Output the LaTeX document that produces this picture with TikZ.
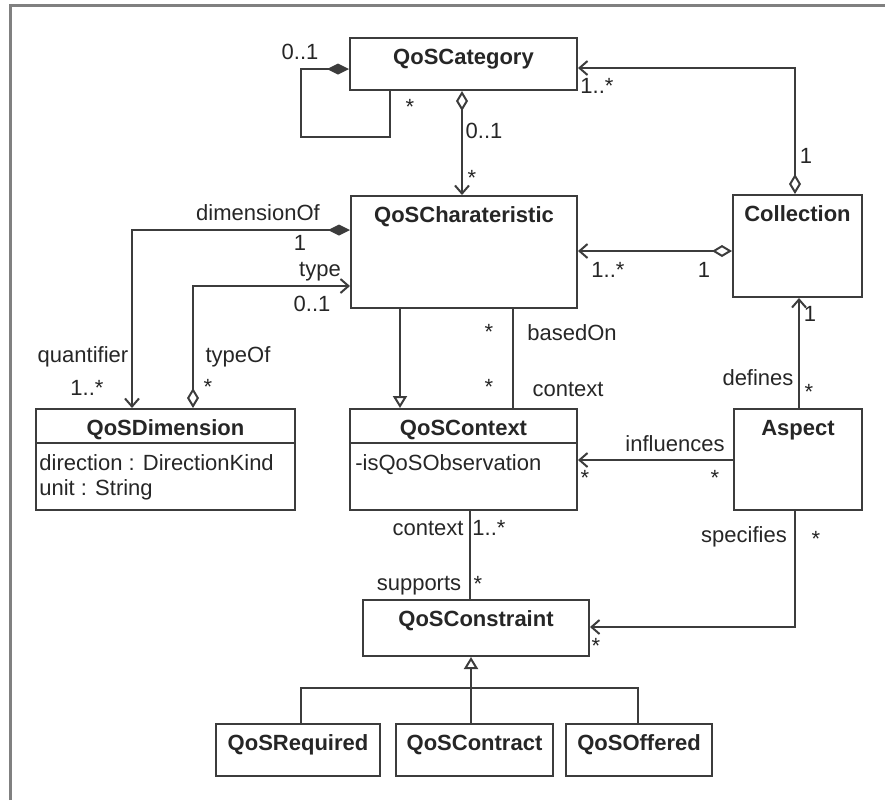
\documentclass[tikz,border=0pt]{standalone}
\usepackage{fontspec}
\setmainfont{Liberation Sans}
\usetikzlibrary{arrows.meta}

\definecolor{linecol}{HTML}{3C3C3C}
\definecolor{txtcol}{HTML}{262626}
\definecolor{framecol}{HTML}{808080}

\tikzset{
    conn/.style={draw=linecol, line width=1pt},
    classbox/.style={draw=linecol, line width=1pt, inner sep=0pt},
    classname/.style={font=\fontsize{11}{13}\selectfont\bfseries, text=txtcol, inner sep=0pt, anchor=base},
    attr/.style={font=\fontsize{11}{13}\selectfont, text=txtcol, inner sep=0pt, anchor=base west},
    lbl/.style={font=\fontsize{11}{13}\selectfont, text=txtcol, inner sep=0pt, anchor=base},
    nav/.style={-{Straight Barb[length=4pt,width=7pt]}},
    compo/.style={{Diamond[length=11pt,width=5.5pt]}-},
    componav/.style={{Diamond[length=11pt,width=5.5pt]}-{Straight Barb[length=4pt,width=7pt]}},
    aggnav/.style={{Diamond[open,length=10pt,width=6pt]}-{Straight Barb[length=4pt,width=7pt]}},
    inherit/.style={-{Triangle[open,length=6pt,width=7pt]}},
}

\begin{document}
\begin{tikzpicture}[x=0.5pt, y=-0.5pt]
    \def\umlclass#1#2#3#4#5#6{%
        \node[classbox, minimum width=#4*0.5pt, minimum height=#5*0.5pt, anchor=north west] (#1) at (#2,#3) {};
        \node[classname] (#1-title) at ([yshift=-13.5pt]#1.north) {#6};
    }

    \def\umllabel#1#2#3#4{%
        \node[lbl] (#1) at (#2,#3) {#4};
    }

    \useasboundingbox (0,0) rectangle (885,800);
    \draw[framecol, line width=1.5pt] (10,800) |- (885,5);

    \umlclass{cat}{349}{37}{227}{52}{QoSCategory}
    \umlclass{char}{350}{195}{226}{112}{QoSCharateristic}
    \umlclass{coll}{732}{194}{129}{102}{Collection}
    \umlclass{dim}{35}{408}{259}{101}{QoSDimension}
    \umlclass{ctx}{349}{408}{227}{101}{QoSContext}
    \umlclass{asp}{733}{408}{128}{101}{Aspect}
    \umlclass{con}{362}{599}{226}{56}{QoSConstraint}
    \umlclass{req}{215}{723}{164}{52}{QoSRequired}
    \umlclass{contract}{395}{723}{157}{52}{QoSContract}
    \umlclass{off}{565}{723}{146}{52}{QoSOffered}

    \draw[conn] (dim.west |- 0,443) -- (dim.east |- 0,443);
    \node[attr] (dim-a1) at (39,470) {direction : DirectionKind};
    \node[attr] (dim-a2) at (39,495) {unit : String};
    \draw[conn] (ctx.west |- 0,443) -- (ctx.east |- 0,443);
    \node[attr] (ctx-a1) at (355,470) {-isQoSObservation};

    \draw[conn, compo] ([yshift=-2.5pt]cat.west) -| (301,137) -| (cat.south -| 390,0);
    \draw[conn, aggnav] (cat.south -| 462,0) -- (char.north -| 462,0);
    \draw[conn, componav] ([yshift=11pt]char.west) -| (dim.north -| 132,0);
    \draw[conn, aggnav] (dim.north -| 193,0) |- ([yshift=-17pt]char.west);
    \draw[conn, inherit] (char.south -| 400,0) -- (ctx.north -| 400,0);
    \draw[conn] (char.south -| 513,0) -- (ctx.north -| 513,0);
    \draw[conn, aggnav] (coll.north -| 795,0) |- ([yshift=-2pt]cat.east);
    \coordinate (collIn) at ([yshift=-2.5pt]coll.west);
    \draw[conn, aggnav] (collIn) -- (collIn -| char.east);
    \draw[conn, nav] (asp.north -| 799,0) -- (coll.south -| 799,0);
    \draw[conn, nav] (asp.west |- 0,460) -- (ctx.east |- 0,460);
    \draw[conn] (ctx.south -| 470,0) -- (con.north -| 470,0);
    \draw[conn, nav] (asp.south -| 795,0) |- (con.east |- 0,627);

    \coordinate (bus) at (471,688);
    \draw[conn, inherit] (contract.north -| bus) -- (con.south -| bus);
    \draw[conn] (req.north -| 301,0) |- (bus) -| (off.north -| 638,0);

    \umllabel{catOwner}{300}{59}{0..1}
    \umllabel{catPart}{410}{114}{*}
    \umllabel{catChar1}{484}{138}{0..1}
    \umllabel{catChar2}{472}{185}{*}
    \umllabel{collCat1}{597}{93}{1..*}
    \umllabel{collCat2}{806}{163}{1}
    \umllabel{dimOf}{258}{220}{dimensionOf}
    \umllabel{dimOfMult}{300}{250}{1}
    \umllabel{quant}{83}{362}{quantifier}
    \umllabel{quantMult}{87}{395}{1..*}
    \umllabel{typeRole}{320}{276}{type}
    \umllabel{typeMult}{312}{311}{0..1}
    \umllabel{typeOf}{238}{362}{typeOf}
    \umllabel{typeOfMult}{208}{394}{*}
    \umllabel{collChar1}{608}{277}{1..*}
    \umllabel{collChar2}{704}{277}{1}
    \umllabel{basedMult}{489}{339}{*}
    \umllabel{based}{572}{340}{basedOn}
    \umllabel{ctxMult}{489}{394}{*}
    \umllabel{ctxRole}{568}{396}{context}
    \umllabel{defMult1}{810}{321}{1}
    \umllabel{def}{758}{385}{defines}
    \umllabel{defMult2}{809}{399}{*}
    \umllabel{infl}{675}{451}{influences}
    \umllabel{inflMult1}{585}{485}{*}
    \umllabel{inflMult2}{715}{485}{*}
    \umllabel{supCtx}{428}{535}{context}
    \umllabel{supCtxMult}{489}{535}{1..*}
    \umllabel{sup}{419}{590}{supports}
    \umllabel{supMult}{478}{591}{*}
    \umllabel{spec}{744}{542}{specifies}
    \umllabel{specMult1}{816}{546}{*}
    \umllabel{specMult2}{596}{653}{*}
\end{tikzpicture}
\end{document}
